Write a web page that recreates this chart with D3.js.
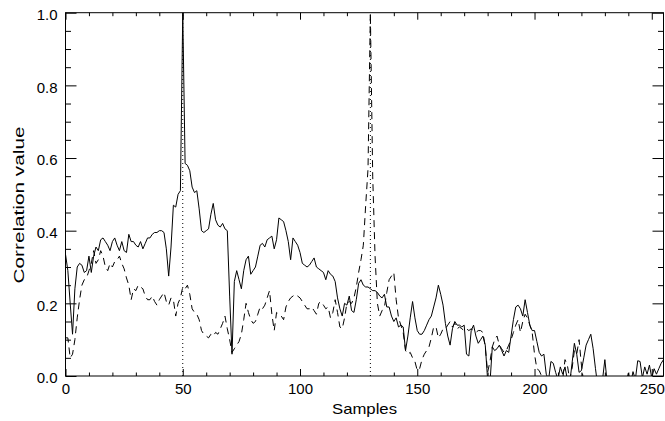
<!DOCTYPE html>
<html>
<head>
<meta charset="utf-8">
<script src="https://cdn.jsdelivr.net/npm/d3@7/dist/d3.min.js"></script>
<style>
  html, body { margin: 0; padding: 0; background: #fff; }
  svg { display: block; }
  text { font-family: "Liberation Sans", Arial, sans-serif; fill: #000; }
</style>
</head>
<body>
<svg id="chart" width="665" height="421"></svg>
<script>
// ---- data ----
const solidValues = [
  .335,.29,.20,.115,.24,.30,.31,.305,.285,.29,
  .33,.285,.33,.355,.345,.375,.38,.37,.36,.345,
  .37,.38,.36,.345,.37,.345,.34,.39,.37,.37,
  .36,.355,.37,.35,.365,.38,.38,.39,.395,.395,
  .40,.40,.395,.35,.275,.355,.47,.465,.50,.51,
  1.0,.585,.58,.565,.52,.505,.51,.46,.40,.395,
  .40,.405,.445,.475,.43,.415,.41,.42,.405,.40,
  .22,.06,.26,.29,.265,.24,.29,.32,.33,.28,
  .29,.30,.33,.36,.365,.355,.375,.38,.385,.35,
  .375,.435,.43,.425,.40,.37,.32,.38,.37,.36,
  .34,.31,.305,.30,.305,.315,.325,.30,.295,.29,
  .285,.265,.29,.28,.275,.26,.215,.185,.165,.20,
  .195,.22,.18,.175,.21,.255,.265,.25,.245,.245,
  .24,.235,.235,.23,.22,.215,.225,.19,.19,.165,
  .15,.16,.135,.14,.135,.07,.11,.16,.205,.16,
  .125,.115,.115,.125,.14,.155,.165,.19,.215,.25,
  .225,.195,.145,.11,.085,.13,.15,.14,.14,.135,
  .14,.06,.055,.125,.14,.11,.09,.10,.11,.085,
  -.01,-.02,.08,.07,.075,.085,.07,.055,.07,.065,
  .11,.155,.19,.195,.185,.165,.21,.175,.14,.125,
  .125,.095,.065,.055,.06,.005,-.01,.04,.035,.01,
  -.01,.025,.005,.025,-.01,-.02,.035,.09,.06,.01,
  .015,.05,.085,.10,.115,.075,.02,-.03,-.05,-.01,
  .045,-.02,-.06,-.08,-.08,-.07,-.07,-.06,-.05,-.02,
  .008,-.02,.012,-.01,.042,.04,-.005,.025,.005,.03,
  -.005,.02,.005,.02,.035,.045
];
const dashedValues = [
  .105,.105,.05,.06,.10,.16,.21,.25,.265,.27,
  .29,.31,.345,.31,.32,.345,.33,.30,.29,.31,
  .30,.315,.32,.33,.31,.295,.27,.25,.21,.24,
  .235,.25,.245,.24,.22,.21,.21,.22,.205,.195,
  .21,.22,.23,.205,.195,.215,.21,.165,.20,.215,
  .245,.24,.25,.225,.185,.175,.17,.155,.125,.115,
  .11,.105,.115,.11,.12,.115,.13,.145,.165,.13,
  .10,.065,.075,.085,.095,.115,.155,.20,.175,.155,
  .145,.15,.17,.19,.185,.195,.215,.235,.17,.125,
  .175,.17,.165,.155,.19,.205,.215,.22,.225,.22,
  .215,.205,.195,.185,.185,.19,.18,.17,.20,.205,
  .195,.185,.19,.16,.175,.21,.175,.135,.13,.16,
  .20,.205,.20,.215,.245,.285,.32,.36,.47,.57,
  1.0,.55,.33,.20,.165,.18,.19,.23,.265,.275,
  .285,.21,.16,.14,.12,.07,.06,.065,.05,.04,
  .015,.02,.045,.06,.07,.08,.105,.135,.135,.105,
  .115,.13,.13,.14,.15,.135,.145,.13,.135,.13,
  .125,.13,.125,.13,.125,.12,.125,.125,.12,.08,
  .01,.04,.08,.10,.11,.085,.075,.065,.07,.085,
  .10,.12,.14,.155,.12,.15,.17,.16,.14,.12,
  .06,.02,.015,0,-.02,-.03,-.04,-.04,-.03,-.03,
  -.02,-.01,-.01,.045,.03,-.01,.02,.07,.06,.10,
  .03,-.02,-.04,-.05,-.05,-.05,-.05,-.05,-.05,-.05,
  -.05,-.05,-.05,-.05,-.05,-.05,-.05,-.05,-.05,-.05,
  -.05,-.05,-.05,-.05,-.05,-.05,-.05,-.05,-.05,-.05,
  -.05,-.05,-.05,-.05,-.05,-.05
];
const markerSamples = [50, 130];
const xMajorTicks = [0, 50, 100, 150, 200, 250];
const xMinorTicks = [10,20,30,40,60,70,80,90,110,120,140,160,170,180,190,210,220,230,240];
const yMajorTicks = [0.0, 0.2, 0.4, 0.6, 0.8, 1.0];
const yMinorTicks = [0.05,0.1,0.15,0.25,0.3,0.35,0.45,0.5,0.55,0.65,0.7,0.75,0.85,0.9,0.95];
const xTitle = "Samples";
const yTitle = "Correlation value";

// ---- layout ----
const L = 65.5, R = 663.5, T = 12.7, B = 376;
const svg = d3.select("#chart");
const x = d3.scaleLinear().domain([0, 255]).range([L, R]);
const y = d3.scaleLinear().domain([0, 1]).range([B, T]);

svg.append("defs").append("clipPath").attr("id", "plotclip")
  .append("rect").attr("x", L).attr("y", T).attr("width", R - L).attr("height", B - T);

// frame
svg.append("rect").attr("x", L).attr("y", T).attr("width", R - L).attr("height", B - T)
  .attr("fill", "none").attr("stroke", "#000").attr("stroke-width", 1);

function styleAxis(g) {
  g.select(".domain").remove();
  g.selectAll(".tick line").attr("stroke", "#000").attr("stroke-width", 1);
  g.selectAll(".tick text").style("font-size", "15px").attr("fill", "#000");
}

// x axes
svg.append("g").attr("transform", `translate(0,${B})`)
  .call(d3.axisBottom(x).tickValues(xMajorTicks).tickFormat(d3.format("d"))
    .tickSizeInner(-7).tickSizeOuter(0).tickPadding(7))
  .call(styleAxis)
  .call(g => g.selectAll(".tick text").attr("dy", "0.72em"));
svg.append("g").attr("transform", `translate(0,${B})`)
  .call(d3.axisBottom(x).tickValues(xMinorTicks).tickFormat("").tickSizeInner(-3.5).tickSizeOuter(0))
  .call(styleAxis);
svg.append("g").attr("transform", `translate(0,${T})`)
  .call(d3.axisTop(x).tickValues(xMajorTicks).tickFormat("").tickSizeInner(-7).tickSizeOuter(0))
  .call(styleAxis);
svg.append("g").attr("transform", `translate(0,${T})`)
  .call(d3.axisTop(x).tickValues(xMinorTicks).tickFormat("").tickSizeInner(-3.5).tickSizeOuter(0))
  .call(styleAxis);

// y axes
svg.append("g").attr("transform", `translate(${L},0)`)
  .call(d3.axisLeft(y).tickValues(yMajorTicks).tickFormat(d3.format(".1f"))
    .tickSizeInner(-11).tickSizeOuter(0).tickPadding(8))
  .call(styleAxis)
  .call(g => g.selectAll(".tick text").attr("dy", "0.45em"));
svg.append("g").attr("transform", `translate(${L},0)`)
  .call(d3.axisLeft(y).tickValues(yMinorTicks).tickFormat("").tickSizeInner(-5.5).tickSizeOuter(0))
  .call(styleAxis);
svg.append("g").attr("transform", `translate(${R},0)`)
  .call(d3.axisRight(y).tickValues(yMajorTicks).tickFormat("").tickSizeInner(-11).tickSizeOuter(0))
  .call(styleAxis);
svg.append("g").attr("transform", `translate(${R},0)`)
  .call(d3.axisRight(y).tickValues(yMinorTicks).tickFormat("").tickSizeInner(-5.5).tickSizeOuter(0))
  .call(styleAxis);

// data
const plot = svg.append("g").attr("clip-path", "url(#plotclip)");
const line = d3.line().x((d, i) => x(i)).y(d => y(d));

plot.append("path").datum(dashedValues).attr("d", line)
  .attr("fill", "none").attr("stroke", "#000").attr("stroke-width", 1)
  .attr("stroke-dasharray", "7,5");
plot.append("path").datum(solidValues).attr("d", line)
  .attr("fill", "none").attr("stroke", "#000").attr("stroke-width", 1);

plot.selectAll(".marker").data(markerSamples).enter().append("line")
  .attr("class", "marker")
  .attr("x1", d => x(d)).attr("x2", d => x(d))
  .attr("y1", y(0)).attr("y2", y(1))
  .attr("stroke", "#000").attr("stroke-width", 1).attr("stroke-dasharray", "1,3");

// titles
svg.append("text").attr("x", (L + R) / 2).attr("y", 414)
  .attr("text-anchor", "middle").style("font-size", "15px")
  .attr("textLength", 65).attr("lengthAdjust", "spacingAndGlyphs")
  .text(xTitle);
svg.append("text").attr("transform", `translate(24,205) rotate(-90)`)
  .attr("text-anchor", "middle").style("font-size", "15px")
  .attr("textLength", 157).attr("lengthAdjust", "spacingAndGlyphs")
  .text(yTitle);
</script>
</body>
</html>
